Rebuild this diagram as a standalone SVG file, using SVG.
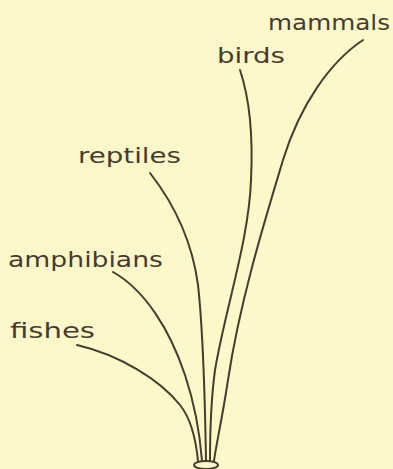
<svg xmlns="http://www.w3.org/2000/svg" width="393" height="469" viewBox="0 0 393 469">
<style>
.bg{fill:#fdf8c9}
.lbl{font-family:"DejaVu Sans","Liberation Sans",sans-serif;font-size:22px;fill:#4a3b2f}
.br{fill:none;stroke:#4a3b2f;stroke-width:2;stroke-linecap:round}
.base{fill:#fdf8c9;stroke:#4a3b2f;stroke-width:2}
</style>
<rect class="bg" x="0" y="0" width="393" height="469"/>
<g id="connectors">
<path class="br" d="M363,40 C330,62 300,105 283,160 C265,220 240,300 228,380 C222,420 216,445 214,461"/>
<path class="br" d="M240,70 C250,100 253,140 251,180 C249,240 225,310 215,370 C211,400 210,440 210,461"/>
<path class="br" d="M150,173 C175,205 192,240 198,285 C203,330 205,400 206,461"/>
<path class="br" d="M113,272 C145,290 170,330 185,375 C195,405 200,435 202,461"/>
<path class="br" d="M77,345 C120,355 160,380 180,405 C192,420 196,440 198,461"/>
</g>
<g id="base"><ellipse class="base" cx="206" cy="465" rx="12" ry="4"/></g>
<g id="mammals"><text class="lbl" x="268" y="30" textLength="122" lengthAdjust="spacingAndGlyphs">mammals</text></g>
<g id="birds"><text class="lbl" x="217" y="63" textLength="68" lengthAdjust="spacingAndGlyphs">birds</text></g>
<g id="reptiles"><text class="lbl" x="78" y="163" textLength="103" lengthAdjust="spacingAndGlyphs">reptiles</text></g>
<g id="amphibians"><text class="lbl" x="8" y="267" textLength="155" lengthAdjust="spacingAndGlyphs">amphibians</text></g>
<g id="fishes"><text class="lbl" x="10" y="338" textLength="85" lengthAdjust="spacingAndGlyphs">fishes</text></g>
</svg>
